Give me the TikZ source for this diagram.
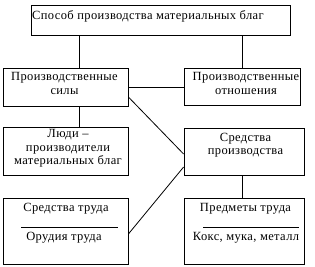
\documentclass[tikz,border=0pt]{standalone}
\usepackage{fontspec}
\setmainfont{Liberation Serif}[LetterSpace=3]
\usetikzlibrary{calc}
\begin{document}
\begin{tikzpicture}[x=1pt,y=-1pt,
  box/.style={draw, line width=0.8pt, inner sep=0pt},
  txt/.style={inner sep=0pt, align=center},
  ln/.style={line width=0.8pt},
  font=\fontsize{12.5}{13.5}\selectfont]
\useasboundingbox (0,0) rectangle (315,266);
% boxes
\node[box, minimum width=259pt, minimum height=30pt] (top) at (160.5,20) {};
\node[box, minimum width=125pt, minimum height=38pt] (ps) at (65.5,87) {};
\node[box, minimum width=116pt, minimum height=37pt] (po) at (242,86.5) {};
\node[box, minimum width=125pt, minimum height=48pt] (ppl) at (65.5,151) {};
\node[box, minimum width=120pt, minimum height=47pt] (sp) at (244,151.5) {};
\node[box, minimum width=125pt, minimum height=66pt] (st) at (65.5,231) {};
\node[box, minimum width=120pt, minimum height=66pt] (pt) at (244,231) {};
% texts
\node[txt, anchor=west] (toptxt) at (32,16) {Способ производства материальных благ};
\node[txt] (pstxt) at (64.5,83.5) {Производственные\\силы};
\node[txt] (potxt) at (246,83.5) {Производственные\\отношения};
\node[txt] (ppltxt) at (68,148.5) {Люди –\\производители\\материальных благ};
\node[txt] (sptxt) at (245.5,145) {Средства\\производства};
\node[txt] (st1) at (66,209) {Средства труда};
\node[txt] (st2) at (64,238) {Орудия труда};
\node[txt] (pt1) at (245.5,209) {Предметы труда};
\node[txt] (pt2) at (246,238) {Кокс, мука, металл};
\coordinate (sta) at (21,227);
\coordinate (stb) at (118,227);
\coordinate (pta) at (203,227);
\coordinate (ptb) at (299,227);
% connectors
\draw[ln] (top.south -| 79,0) -- (ps.north -| 79,0);
\draw[ln] (top.south -| 242,0) -- (po.north -| 242,0);
\draw[ln] (ps.east) -- (ps.east -| po.west);
\draw[ln] (ps.south -| 79,0) -- (ppl.north -| 79,0);
\draw[ln] ($(ps.east)+(0,10)$) -- ($(sp.west)+(0,2.5)$);
\draw[ln] ($(sp.west)+(0,15.5)$) -- ($(st.east)+(0,3)$);
\draw[ln] (sp.south -| 242,0) -- (pt.north -| 242,0);
\draw[ln] (sta) -- (stb);
\draw[ln] (pta) -- (ptb);
\end{tikzpicture}
\end{document}
